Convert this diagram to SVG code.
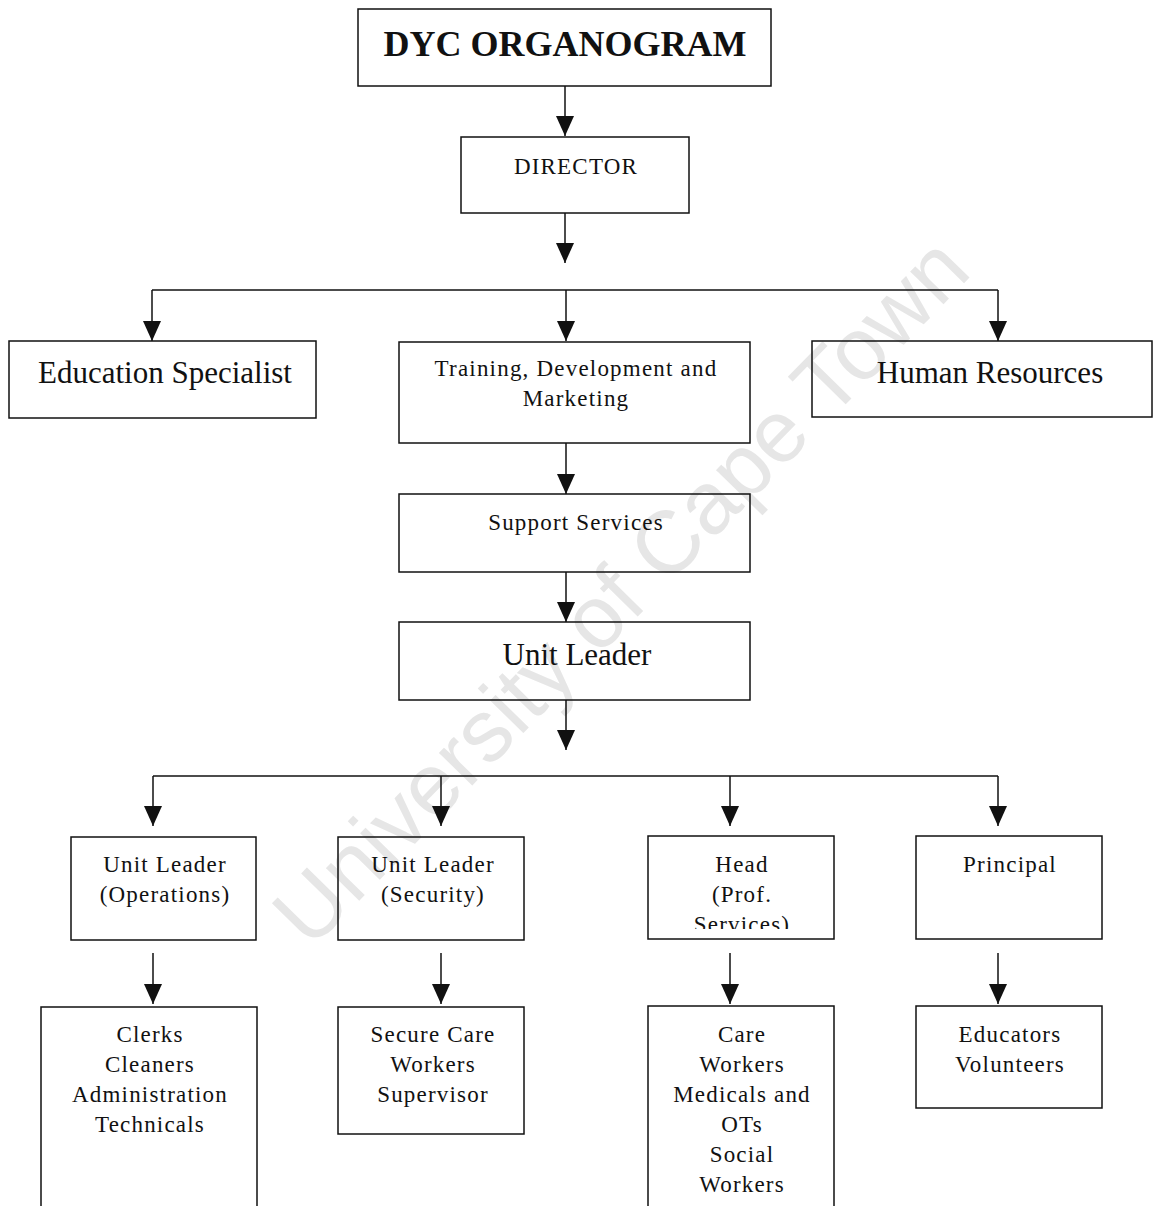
<svg xmlns="http://www.w3.org/2000/svg" width="1153" height="1206" viewBox="0 0 1153 1206">
<style>
.box{fill:none;stroke:#111;stroke-width:1.5}
.ln{fill:none;stroke:#111;stroke-width:1.5}
.t{font-family:"Liberation Serif","Times New Roman",serif;fill:#111;text-anchor:middle}
.s{font-size:23px;letter-spacing:1.2px}
.l{font-size:31px}
.wm{font-family:"Liberation Sans",Arial,sans-serif;font-size:88px;fill:#e6e6e6;text-anchor:middle}
</style>
<defs>
<marker id="ah" viewBox="0 0 20 18" refX="20" refY="9" markerWidth="20" markerHeight="18" markerUnits="userSpaceOnUse" orient="auto">
<path d="M0,0 L20,9 L0,18 z" fill="#111"/>
</marker>
<clipPath id="headclip"><rect x="648" y="836" width="186" height="93"/></clipPath>
</defs>
<rect width="1153" height="1206" fill="#fff"/>
<text class="wm" x="642" y="612" transform="rotate(-45.6 642 612)">University of Cape Town</text>

<g id="connectors">
<line class="ln" x1="565" y1="86" x2="565" y2="136" marker-end="url(#ah)"/>
<line class="ln" x1="565" y1="213" x2="565" y2="263" marker-end="url(#ah)"/>
<line class="ln" x1="152" y1="290" x2="998" y2="290"/>
<line class="ln" x1="152" y1="290" x2="152" y2="341" marker-end="url(#ah)"/>
<line class="ln" x1="566" y1="290" x2="566" y2="341" marker-end="url(#ah)"/>
<line class="ln" x1="998" y1="290" x2="998" y2="341" marker-end="url(#ah)"/>
<line class="ln" x1="566" y1="443" x2="566" y2="494" marker-end="url(#ah)"/>
<line class="ln" x1="566" y1="572" x2="566" y2="622" marker-end="url(#ah)"/>
<line class="ln" x1="566" y1="700" x2="566" y2="750" marker-end="url(#ah)"/>
<line class="ln" x1="153" y1="776" x2="998" y2="776"/>
<line class="ln" x1="153" y1="776" x2="153" y2="826" marker-end="url(#ah)"/>
<line class="ln" x1="441" y1="776" x2="441" y2="826" marker-end="url(#ah)"/>
<line class="ln" x1="730" y1="776" x2="730" y2="826" marker-end="url(#ah)"/>
<line class="ln" x1="998" y1="776" x2="998" y2="826" marker-end="url(#ah)"/>
<line class="ln" x1="153" y1="953" x2="153" y2="1004" marker-end="url(#ah)"/>
<line class="ln" x1="441" y1="953" x2="441" y2="1004" marker-end="url(#ah)"/>
<line class="ln" x1="730" y1="953" x2="730" y2="1004" marker-end="url(#ah)"/>
<line class="ln" x1="998" y1="953" x2="998" y2="1004" marker-end="url(#ah)"/>
</g>

<g id="title">
<rect class="box" x="358" y="9" width="413" height="77"/>
<text class="t" x="565" y="56" font-size="36" font-weight="bold">DYC ORGANOGRAM</text>
</g>
<g id="director">
<rect class="box" x="461" y="137" width="228" height="76"/>
<text class="t s" x="576" y="174">DIRECTOR</text>
</g>
<g id="education-specialist">
<rect class="box" x="9" y="341" width="307" height="77"/>
<text class="t l" x="165" y="383">Education Specialist</text>
</g>
<g id="training">
<rect class="box" x="399" y="342" width="351" height="101"/>
<text class="t s" x="576" y="376">Training, Development and</text>
<text class="t s" x="576" y="406">Marketing</text>
</g>
<g id="human-resources">
<rect class="box" x="812" y="341" width="340" height="76"/>
<text class="t l" x="990" y="383">Human Resources</text>
</g>
<g id="support-services">
<rect class="box" x="399" y="494" width="351" height="78"/>
<text class="t s" x="576" y="530">Support Services</text>
</g>
<g id="unit-leader">
<rect class="box" x="399" y="622" width="351" height="78"/>
<text class="t l" x="577" y="665">Unit Leader</text>
</g>
<g id="unit-leader-operations">
<rect class="box" x="71" y="837" width="185" height="103"/>
<text class="t s" x="165" y="872">Unit Leader</text>
<text class="t s" x="165" y="902">(Operations)</text>
</g>
<g id="unit-leader-security">
<rect class="box" x="338" y="837" width="186" height="103"/>
<text class="t s" x="433" y="872">Unit Leader</text>
<text class="t s" x="433" y="902">(Security)</text>
</g>
<g id="head-prof-services">
<rect class="box" x="648" y="836" width="186" height="103"/>
<g clip-path="url(#headclip)">
<text class="t s" x="742" y="872">Head</text>
<text class="t s" x="742" y="902">(Prof.</text>
<text class="t s" x="742" y="932">Services)</text>
</g>
</g>
<g id="principal">
<rect class="box" x="916" y="836" width="186" height="103"/>
<text class="t s" x="1010" y="872">Principal</text>
</g>
<g id="operations-staff">
<path class="box" d="M41,1206 V1007 H257 V1206"/>
<text class="t s" x="150" y="1042">Clerks</text>
<text class="t s" x="150" y="1072">Cleaners</text>
<text class="t s" x="150" y="1102">Administration</text>
<text class="t s" x="150" y="1132">Technicals</text>
</g>
<g id="security-staff">
<rect class="box" x="338" y="1007" width="186" height="127"/>
<text class="t s" x="433" y="1042">Secure Care</text>
<text class="t s" x="433" y="1072">Workers</text>
<text class="t s" x="433" y="1102">Supervisor</text>
</g>
<g id="professional-staff">
<path class="box" d="M648,1206 V1006 H834 V1206"/>
<text class="t s" x="742" y="1042">Care</text>
<text class="t s" x="742" y="1072">Workers</text>
<text class="t s" x="742" y="1102">Medicals and</text>
<text class="t s" x="742" y="1132">OTs</text>
<text class="t s" x="742" y="1162">Social</text>
<text class="t s" x="742" y="1192">Workers</text>
</g>
<g id="education-staff">
<rect class="box" x="916" y="1006" width="186" height="102"/>
<text class="t s" x="1010" y="1042">Educators</text>
<text class="t s" x="1010" y="1072">Volunteers</text>
</g>
</svg>
